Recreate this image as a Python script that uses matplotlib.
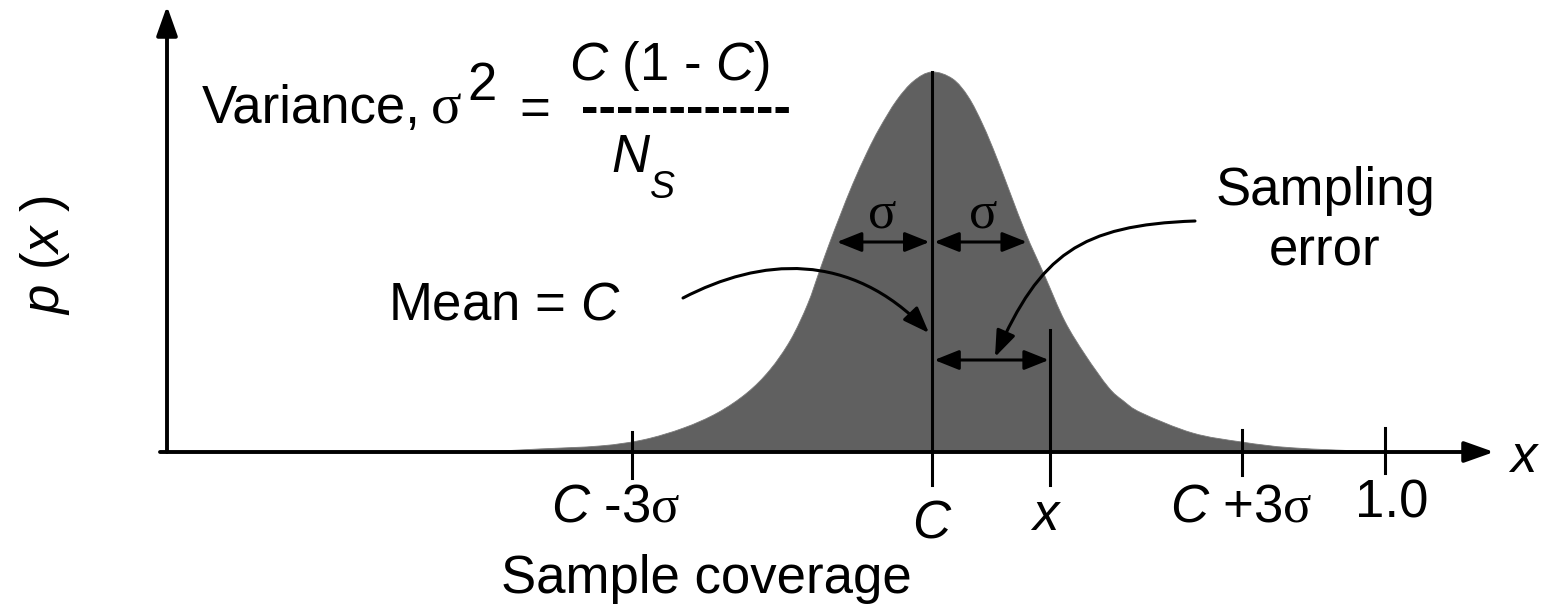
import matplotlib
matplotlib.use('Agg')
import matplotlib.pyplot as plt
from matplotlib.path import Path
from matplotlib.patches import PathPatch, FancyArrowPatch

plt.rcParams['font.family'] = ['Liberation Sans', 'DejaVu Sans']
plt.rcParams['mathtext.fontset'] = 'custom'
plt.rcParams['mathtext.rm'] = 'Liberation Sans'
plt.rcParams['mathtext.it'] = 'Liberation Sans:italic'
plt.rcParams['mathtext.sf'] = 'Liberation Serif'

# ---- data ----
curve_x = [0.208, 0.257, 0.306, 0.356, 0.391, 0.424, 0.452, 0.476, 0.495, 0.512,
           0.526, 0.536, 0.544, 0.553, 0.563, 0.575, 0.585, 0.599, 0.613, 0.628,
           0.645, 0.658, 0.670, 0.682, 0.704, 0.721, 0.737, 0.754, 0.773, 0.785,
           0.800, 0.842, 0.883, 0.924, 0.996, 1.050]
curve_p = [0.000, 0.001, 0.008, 0.016, 0.032, 0.063, 0.103, 0.155, 0.216, 0.295,
           0.389, 0.479, 0.550, 0.625, 0.705, 0.790, 0.852, 0.925, 0.976, 1.000,
           0.982, 0.934, 0.860, 0.768, 0.584, 0.461, 0.345, 0.255, 0.170, 0.135,
           0.103, 0.050, 0.026, 0.011, 0.001, 0.000]
mean_c = 0.628
sigma = 0.078
sample_x = 0.725
tick_positions = [0.382, 0.628, 0.725, 0.883, 1.0]
tick_labels = [r'$C$ -3$\mathsf{σ}$', r'$C$', r'$x$', r'$C$ +3$\mathsf{σ}$', '1.0']

# ---- layout helpers (pixel -> data) ----
def fx(px):
    return (px - 167) / 1218.0

def fy(py):
    return (452 - py) / 380.0

FS = 38
fig = plt.figure(figsize=(15.49, 6.04), dpi=100)
ax = fig.add_axes([0, 0, 1, 1])
ax.set_xlim(fx(0), fx(1549))
ax.set_ylim(fy(604), fy(0))
ax.axis('off')

# ---- filled curve (smooth path through read points) ----
pts = list(zip(curve_x, curve_p))
verts = [(curve_x[0], 0.0), pts[0]]
codes = [Path.MOVETO, Path.LINETO]
n = len(pts)
for i in range(n - 1):
    p0 = pts[i - 1] if i > 0 else pts[i]
    p1 = pts[i]
    p2 = pts[i + 1]
    p3 = pts[i + 2] if i + 2 < n else pts[i + 1]
    c1 = (p1[0] + (p2[0] - p0[0]) / 6.0, p1[1] + (p2[1] - p0[1]) / 6.0)
    c2 = (p2[0] - (p3[0] - p1[0]) / 6.0, p2[1] - (p3[1] - p1[1]) / 6.0)
    verts += [c1, c2, p2]
    codes += [Path.CURVE4] * 3
verts += [(curve_x[-1], 0.0), (curve_x[0], 0.0)]
codes += [Path.LINETO, Path.CLOSEPOLY]
ax.add_patch(PathPatch(Path(verts, codes), facecolor='#606060',
                       edgecolor='#7a7a7a', lw=0.6, zorder=1))

# ---- axes arrows ----
ax.add_patch(FancyArrowPatch((0, 0), (0, fy(6)),
             arrowstyle='-|>,head_length=0.9,head_width=0.32',
             mutation_scale=20, lw=2.8, color='black', shrinkA=0, shrinkB=0, zorder=3))
ax.add_patch(FancyArrowPatch((fx(160), 0), (fx(1494), 0),
             arrowstyle='-|>,head_length=0.9,head_width=0.32',
             mutation_scale=20, lw=2.8, color='black', shrinkA=0, shrinkB=0, zorder=3))

# ---- vertical lines: mean and sample x ----
ax.plot([mean_c, mean_c], [1.0, fy(485)], color='black', lw=2.2, zorder=3)
ax.plot([sample_x, sample_x], [fy(330), fy(485)], color='black', lw=2.2, zorder=3)

# ---- ticks ----
tick_tops = [fy(432), None, None, fy(430), fy(428)]
tick_bottoms = [fy(478), None, None, fy(475), fy(473)]
for pos, t, b in zip(tick_positions, tick_tops, tick_bottoms):
    if t is not None:
        ax.plot([pos, pos], [t, b], color='black', lw=2.2, zorder=3)

# ---- tick labels ----
label_dx = [-17, 0, -4, -1, 7]
label_base = [522, 538, 530, 522, 518]
for pos, lab, dx, by in zip(tick_positions, tick_labels, label_dx, label_base):
    ax.text(pos + dx / 1218.0, fy(by), lab, ha='center', va='baseline', fontsize=FS)

ax.text(fx(706), fy(593), 'Sample coverage', ha='center', va='baseline', fontsize=FS)
ax.text(fx(1524), fy(472), r'$x$', ha='center', va='baseline', fontsize=FS)
ax.text(fx(45), fy(255), r'$p$ ($x$ )', ha='center', va='center', rotation=90, fontsize=FS)

# ---- variance formula ----
ax.text(fx(202), fy(123), 'Variance,', ha='left', va='baseline', fontsize=FS)
ax.text(fx(431), fy(123), 'σ', ha='left', va='baseline', fontsize=41,
        family=['Liberation Serif'])
ax.text(fx(467), fy(100), '2', ha='left', va='baseline', fontsize=FS)
ax.text(fx(519), fy(125), '=', ha='left', va='baseline', fontsize=FS)
ax.text(fx(569), fy(80), r'$C$ (1 - $C$)', ha='left', va='baseline', fontsize=FS)
ax.text(fx(581), fy(110), '------------', ha='left', va='center', fontsize=FS,
        fontweight='bold')
ax.text(fx(611), fy(172), r'$N$', ha='left', va='baseline', fontsize=FS)
ax.text(fx(649), fy(198), r'$S$', ha='left', va='baseline', fontsize=27)

# ---- annotations ----
ax.text(fx(388), fy(320), r'Mean = $C$', ha='left', va='baseline', fontsize=FS)
ax.text(fx(1325), fy(205), 'Sampling', ha='center', va='baseline', fontsize=FS)
ax.text(fx(1325), fy(265), 'error', ha='center', va='baseline', fontsize=FS)
ax.text(mean_c - sigma / 2 - 0.002, fy(228), 'σ', ha='center', va='baseline',
        fontsize=FS, family=['Liberation Serif'])
ax.text(mean_c + sigma / 2 + 0.003, fy(228), 'σ', ha='center', va='baseline',
        fontsize=FS, family=['Liberation Serif'])

dbl = '<|-|>,head_length=0.75,head_width=0.3'
ax.add_patch(FancyArrowPatch((mean_c - sigma, fy(242)), (mean_c - 0.002, fy(242)),
             arrowstyle=dbl, mutation_scale=20, lw=2.2, color='black',
             shrinkA=0, shrinkB=0, zorder=4))
ax.add_patch(FancyArrowPatch((mean_c + 0.002, fy(242)), (mean_c + sigma, fy(242)),
             arrowstyle=dbl, mutation_scale=20, lw=2.2, color='black',
             shrinkA=0, shrinkB=0, zorder=4))
ax.add_patch(FancyArrowPatch((mean_c + 0.002, fy(360)), (sample_x - 0.001, fy(360)),
             arrowstyle=dbl, mutation_scale=20, lw=2.2, color='black',
             shrinkA=0, shrinkB=0, zorder=4))

one = '-|>,head_length=0.8,head_width=0.3'
mean_path = Path([(fx(683), fy(298)), (fx(760), fy(258)), (fx(850), fy(250)),
                  (fx(929), fy(333))],
                 [Path.MOVETO, Path.CURVE4, Path.CURVE4, Path.CURVE4])
ax.add_patch(FancyArrowPatch(path=mean_path, arrowstyle=one, mutation_scale=20,
             lw=2.2, color='black', zorder=4))
err_path = Path([(fx(1195), fy(221)), (fx(1080), fy(225)), (fx(1040), fy(255)),
                 (fx(995), fy(357))],
                [Path.MOVETO, Path.CURVE4, Path.CURVE4, Path.CURVE4])
ax.add_patch(FancyArrowPatch(path=err_path, arrowstyle=one, mutation_scale=20,
             lw=2.2, color='black', zorder=4))

fig.savefig('out.png', dpi=100)
